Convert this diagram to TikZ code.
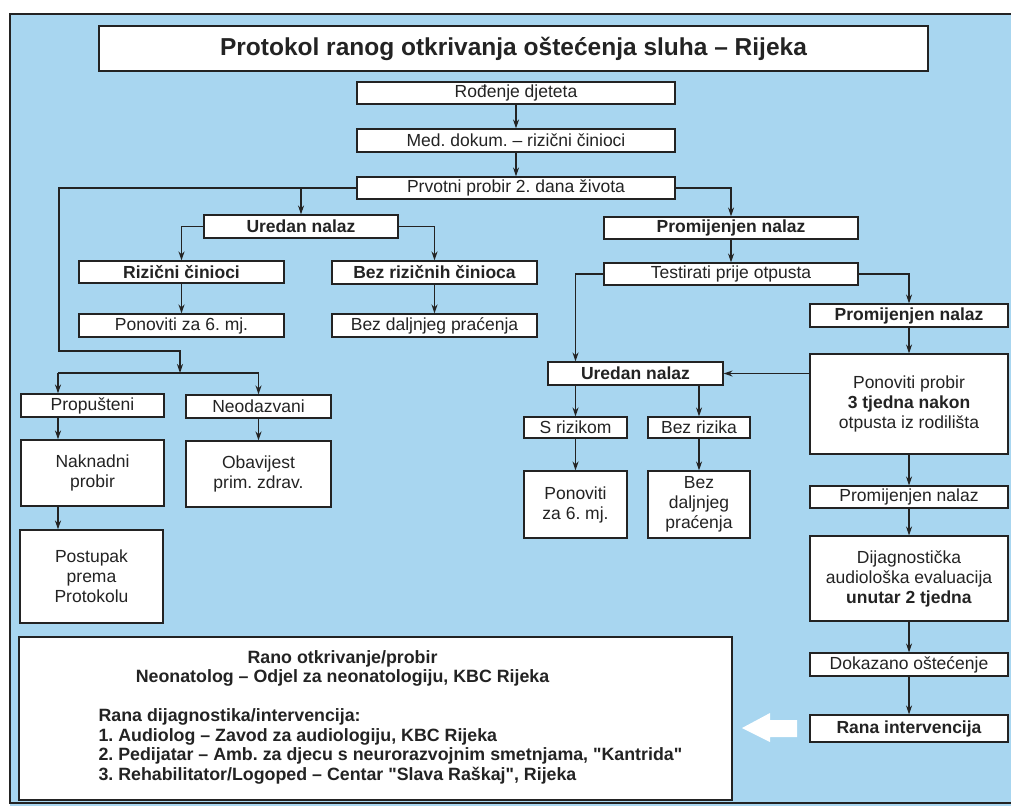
\documentclass[tikz,border=0pt]{standalone}
\usepackage{fontspec}
\setmainfont{Liberation Sans}[Ligatures=TeXOff]
\usetikzlibrary{arrows.meta,positioning}
\definecolor{bgblue}{RGB}{168,214,240}
\definecolor{ink}{RGB}{35,35,35}

\begin{document}
\frenchspacing
\begin{tikzpicture}[x=1pt,y=-1pt,->,>={Stealth[length=9pt,width=6pt]},
  ink,line width=1.1pt,
  box/.style={draw=ink,fill=white,inner sep=0pt,align=center,
    font=\fontsize{17.5}{20}\selectfont},
  bbox/.style={box,font=\fontsize{17.5}{20}\selectfont\bfseries}]
  \useasboundingbox (0,0) rectangle (1011,806);
  % background and frame
  \fill[-,white] (0,0) rectangle (1011,806);
  \fill[-,bgblue] (10,14) rectangle (1011,806);
  \draw[-,line width=2pt] (1011,14) -- (10,14) -- (10,803) -- (1011,803);

  \node[bbox,font=\fontsize{24.5}{28}\selectfont\bfseries,minimum width=829pt,minimum height=45pt] (title) at (513.5,48.5) {Protokol ranog otkrivanja oštećenja sluha – Rijeka};

  % middle column
  \node[box,minimum width=318pt,minimum height=22pt] (rodj) at (516,93)  {Rođenje djeteta};
  \node[box,minimum width=318pt,minimum height=23pt] (med)  at (516,140.5) {Med. dokum. – rizični činioci};
  \node[box,minimum width=318pt,minimum height=22pt] (prvo) at (516,188) {Prvotni probir 2. dana života};

  % left branch
  \node[bbox,minimum width=194pt,minimum height=23pt] (uredL)   at (301,226.5) {Uredan nalaz};
  \node[bbox,minimum width=205pt,minimum height=22pt] (rizL)    at (181.5,272) {Rizični činioci};
  \node[bbox,minimum width=205pt,minimum height=23pt] (bezriz)  at (434.5,272.5) {Bez rizičnih činioca};
  \node[box,minimum width=205pt,minimum height=23pt]  (ponL)    at (181.5,325.5) {Ponoviti za 6. mj.};
  \node[box,minimum width=205pt,minimum height=23pt]  (bezdalj) at (434.5,325.5) {Bez daljnjeg praćenja};
  \node[box,minimum width=143pt,minimum height=23pt]  (prop) at (92.5,405.5) {Propušteni};
  \node[box,minimum width=145pt,minimum height=23pt]  (neod) at (258.5,406.5) {Neodazvani};
  \node[box,minimum width=143pt,minimum height=66pt]  (nakn) at (92.5,473) {Naknadni\\probir};
  \node[box,minimum width=145pt,minimum height=66pt]  (obav) at (258.5,474) {Obavijest\\prim. zdrav.};
  \node[box,minimum width=143pt,minimum height=93pt]  (post) at (91.5,576.5) {Postupak\\prema\\Protokolu};

  % right branch
  \node[bbox,minimum width=254pt,minimum height=22pt] (promR) at (731,228) {Promijenjen nalaz};
  \node[box,minimum width=254pt,minimum height=22pt]  (test)  at (731,274) {Testirati prije otpusta};
  \node[bbox,minimum width=175pt,minimum height=23pt] (uredR) at (635.5,373.5) {Uredan nalaz};
  \node[box,minimum width=103pt,minimum height=21pt]  (srz)   at (575.5,427.5) {S rizikom};
  \node[box,minimum width=102pt,minimum height=21pt]  (bezrz) at (699,427.5) {Bez rizika};
  \node[box,minimum width=103pt,minimum height=67pt]  (ponR)  at (575.5,504.5) {Ponoviti\\za 6. mj.};
  \node[box,minimum width=102pt,minimum height=67pt]  (bezdR) at (699,504.5) {Bez\\daljnjeg\\praćenja};

  \node[bbox,minimum width=198pt,minimum height=23pt] (prom2)  at (909,315.5) {Promijenjen nalaz};
  \node[box,minimum width=198pt,minimum height=100pt] (ponpro) at (909,404) {Ponoviti probir\\\textbf{3 tjedna nakon}\\otpusta iz rodilišta};
  \node[box,minimum width=198pt,minimum height=22pt]  (prom3)  at (909,497) {Promijenjen nalaz};
  \node[box,minimum width=198pt,minimum height=85pt]  (dijag)  at (909,578.5) {Dijagnostička\\audiološka evaluacija\\\textbf{unutar 2 tjedna}};
  \node[box,minimum width=198pt,minimum height=23pt]  (dokaz)  at (909,664.5) {Dokazano oštećenje};
  \node[bbox,minimum width=198pt,minimum height=27pt] (rana)   at (909,728.5) {Rana intervencija};

  % info box
  \node[box,minimum width=713pt,minimum height=163pt] (info) at (375.5,718.5) {};
  \node[anchor=north west,align=left,inner sep=0pt,font=\fontsize{17.8}{19.5}\selectfont\bfseries] (infotxt) at (98,650)
    {\makebox[488pt]{Rano otkrivanje/probir}\\
     \makebox[488pt]{Neonatolog – Odjel za neonatologiju, KBC Rijeka}\\[19.5pt]
     Rana dijagnostika/intervencija:\\
     1. Audiolog – Zavod za audiologiju, KBC Rijeka\\
     2. Pedijatar – Amb. za djecu s neurorazvojnim smetnjama, "Kantrida"\\
     3. Rehabilitator/Logoped – Centar "Slava Raškaj", Rijeka};

  % white arrow
  \fill[-,white] (797,720) -- (770,720) -- (770,713) -- (742,728) -- (770,742) -- (770,737) -- (797,737) -- cycle;

  % connectors
  \coordinate (lft)   at (59,351);
  \coordinate (mid)   at (180,351);
  \coordinate (fork)  at (180,373);
  \coordinate (forkL) at (58,373);
  \coordinate (forkR) at (neod.north |- fork);

  \draw (rodj) -- (med);
  \draw (med) -- (prvo);
  \draw (prvo.west) -| (lft) -- (mid) -- (fork);
  \draw (prvo.west -| uredL.north) -- (uredL.north);
  \draw (uredL.west) -| (rizL.north);
  \draw (uredL.east) -| (bezriz.north);
  \draw (rizL) -- (ponL);
  \draw (bezriz) -- (bezdalj);
  \draw[-] (forkL) -- (forkR);
  \draw (forkL) -- (forkL |- prop.north);
  \draw (forkR) -- (neod.north);
  \draw (forkL |- prop.south) -- (forkL |- nakn.north);
  \draw (forkL |- nakn.south) -- (forkL |- post.north);
  \draw (neod) -- (obav);

  \draw (prvo.east) -| (promR.north);
  \draw (promR) -- (test);
  \draw (test.west) -| (srz.north |- uredR.north);
  \draw (test.east) -| (prom2.north);
  \draw (ponpro.west |- uredR.east) -- (uredR.east);
  \draw (uredR.south -| srz.north) -- (srz.north);
  \draw (uredR.south -| bezrz.north) -- (bezrz.north);
  \draw (srz) -- (ponR);
  \draw (bezrz) -- (bezdR);
  \draw (prom2) -- (ponpro);
  \draw (ponpro) -- (prom3);
  \draw (prom3) -- (dijag);
  \draw (dijag) -- (dokaz);
  \draw (dokaz) -- (rana);
\end{tikzpicture}
\end{document}
